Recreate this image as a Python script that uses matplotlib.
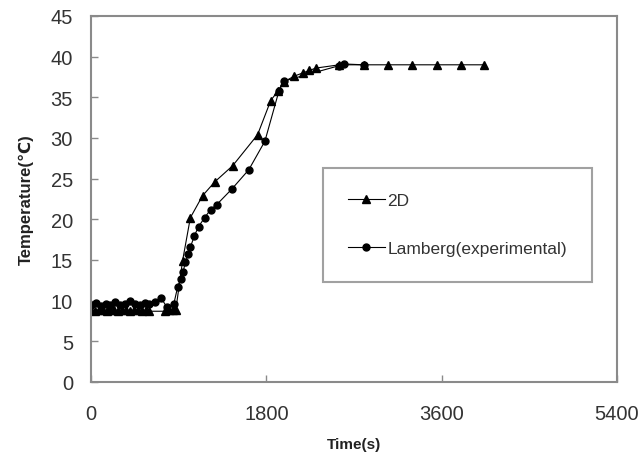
import matplotlib
matplotlib.use('Agg')
import matplotlib.pyplot as plt

plt.rcParams['font.family'] = ['Liberation Sans', 'DejaVu Sans']

# 2D model (triangles)
t_2d = [0, 40, 80, 120, 160, 200, 240, 280, 320, 360, 400, 440, 480, 520, 560, 600,
        760, 800, 840, 870, 940, 1020, 1145, 1270, 1455, 1710, 1845, 1920, 1980,
        2085, 2175, 2240, 2310, 2550, 2800, 3050, 3300, 3550, 3800, 4030]
temp_2d = [8.8, 8.7, 8.9, 8.8, 8.7, 8.8, 8.9, 8.7, 8.8, 8.8, 8.7, 8.8, 8.9, 8.7, 8.8, 8.7,
           8.7, 8.8, 8.9, 8.8, 14.9, 20.2, 22.9, 24.6, 26.6, 30.4, 34.6, 35.8, 36.9,
           37.6, 38.0, 38.3, 38.6, 39.0, 39.0, 39.0, 39.0, 39.0, 39.0, 39.0]

# Lamberg experimental (circles)
t_lam = [0, 50, 100, 150, 200, 250, 300, 350, 400, 450, 500, 550, 600, 660, 720, 780,
         850, 890, 920, 945, 970, 1000, 1021, 1062, 1104, 1166, 1228, 1290, 1444,
         1620, 1785, 1930, 1980, 2550, 2600, 2800]
temp_lam = [9.5, 9.7, 9.4, 9.6, 9.5, 9.8, 9.5, 9.6, 9.9, 9.6, 9.5, 9.7, 9.6, 9.8, 10.3, 9.2,
            9.6, 11.7, 12.7, 13.5, 14.8, 15.7, 16.6, 18.0, 19.1, 20.2, 21.2, 21.8, 23.7,
            26.1, 29.6, 35.8, 37.0, 38.9, 39.1, 39.0]

xticks = [0, 1800, 3600, 5400]
yticks = [0, 5, 10, 15, 20, 25, 30, 35, 40, 45]

fig = plt.figure(figsize=(6.42, 4.56), dpi=100)
ax = fig.add_axes([91 / 642, 1 - 383 / 456, (617 - 91) / 642, (383 - 17) / 456])

ax.plot(t_2d, temp_2d, color='black', lw=0.8, marker='^', markersize=6, label='2D')
ax.plot(t_lam, temp_lam, color='black', lw=0.8, marker='o', markersize=5, label='Lamberg(experimental)')

ax.set_xlim(0, 5400)
ax.set_ylim(0, 45)
ax.set_xticks(xticks)
ax.set_yticks(yticks)

for s in ax.spines.values():
    s.set_color('#8a8a8a')
    s.set_linewidth(1.5)

ax.tick_params(axis='both', direction='in', length=5, width=1, color='#8a8a8a',
               labelsize=14.5, labelcolor='#333333')
ax.tick_params(axis='x', pad=16)
ax.tick_params(axis='y', pad=13)

ax.set_xlabel('Time(s)', fontsize=11, fontweight='bold', color='#222222', labelpad=10)
ax.set_ylabel('Temperature(℃)', fontsize=12, fontweight='bold', color='#222222', labelpad=12)

leg = ax.legend(loc='upper left', bbox_to_anchor=(323 / 642, 1 - 169 / 456),
                bbox_transform=fig.transFigure, fontsize=12.5, frameon=True, fancybox=False,
                borderpad=1.45, labelspacing=1.9, handlelength=2.1, handletextpad=0.15,
                borderaxespad=0)
leg.get_frame().set_edgecolor('#8a8a8a')
leg.get_frame().set_linewidth(1.5)
for txt in leg.get_texts():
    txt.set_color('#333333')

fig.savefig('out.png', dpi=100)
